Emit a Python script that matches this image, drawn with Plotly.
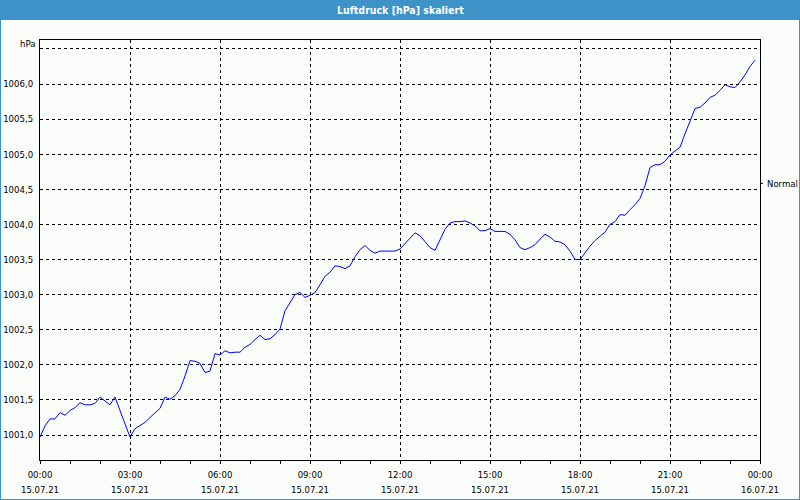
import pandas as pd
import plotly.graph_objects as go

# ---- data (10-minute readings, 15.07.21 00:00 .. 23:50) ----
start_time = "2021-07-15 00:00"
interval = "10min"
pressure_hpa = [
    1000.97, 1001.13, 1001.23, 1001.23, 1001.32, 1001.28, 1001.35, 1001.39, 1001.46, 1001.43,
    1001.43, 1001.45, 1001.54, 1001.48, 1001.43, 1001.54, 1001.35, 1001.16, 1000.97, 1001.09,
    1001.13, 1001.18, 1001.25, 1001.32, 1001.38, 1001.54, 1001.51, 1001.56, 1001.65, 1001.84,
    1002.06, 1002.05, 1002.02, 1001.89, 1001.91, 1002.16, 1002.14, 1002.20, 1002.17, 1002.18,
    1002.18, 1002.25, 1002.29, 1002.36, 1002.42, 1002.36, 1002.37, 1002.43, 1002.51, 1002.77,
    1002.88, 1003.00, 1003.03, 1002.96, 1002.99, 1003.03, 1003.14, 1003.26, 1003.32, 1003.41,
    1003.40, 1003.37, 1003.41, 1003.54, 1003.64, 1003.70, 1003.63, 1003.59, 1003.62, 1003.62,
    1003.63, 1003.62, 1003.65, 1003.73, 1003.81, 1003.88, 1003.84, 1003.75, 1003.67, 1003.63,
    1003.78, 1003.93, 1004.02, 1004.04, 1004.04, 1004.05, 1004.02, 1003.98, 1003.91, 1003.91,
    1003.94, 1003.90, 1003.90, 1003.90, 1003.86, 1003.78, 1003.67, 1003.64, 1003.67, 1003.71,
    1003.79, 1003.86, 1003.82, 1003.76, 1003.75, 1003.71, 1003.62, 1003.50, 1003.50, 1003.60,
    1003.69, 1003.77, 1003.83, 1003.89, 1004.00, 1004.04, 1004.14, 1004.13, 1004.21, 1004.28,
    1004.37, 1004.55, 1004.81, 1004.85, 1004.85, 1004.90, 1004.99, 1005.05, 1005.10, 1005.29,
    1005.47, 1005.65, 1005.67, 1005.73, 1005.81, 1005.84, 1005.91, 1005.99, 1005.96, 1005.95,
    1006.03, 1006.13, 1006.25, 1006.34,
]
y_tick_values = [1001.0, 1001.5, 1002.0, 1002.5, 1003.0, 1003.5, 1004.0, 1004.5, 1005.0, 1005.5, 1006.0, 1006.5]
y_tick_labels = ["1001,0", "1001,5", "1002,0", "1002,5", "1003,0", "1003,5", "1004,0", "1004,5",
                 "1005,0", "1005,5", "1006,0", ""]
x_range = ["2021-07-15 00:00", "2021-07-16 00:00"]
y_range = [1000.644, 1006.627]
normal_level = 1004.585
title_text = "Luftdruck [hPa] skaliert"
unit_text = "hPa"
normal_text = "Normal"

times = pd.date_range(start_time, periods=len(pressure_hpa), freq=interval)
x_ticks = pd.date_range(x_range[0], x_range[1], freq="3h")
x_time_text = [t.strftime("%H:%M") for t in x_ticks]
x_date_text = [t.strftime("%d.%m.%y") for t in x_ticks]

FONT = "DejaVu Sans Condensed, Liberation Sans, sans-serif"
FS = 9.5
BLUE = "#3d92c8"
BG = "#fbfdfb"

fig = go.Figure()
fig.add_trace(go.Scatter(x=times, y=pressure_hpa, mode="lines",
                         line=dict(color="#0000ff", width=1), showlegend=False,
                         hoverinfo="skip"))
# invisible companion trace so the second (date) x-axis is drawn
fig.add_trace(go.Scatter(x=times, y=pressure_hpa, mode="lines", xaxis="x2",
                         line=dict(width=0), opacity=0, showlegend=False, hoverinfo="skip"))

# plot area: x 40..760, y 40..460 px
L, R, T, B, W, H = 40, 40, 40, 40, 800, 500
pw, ph = W - L - R, H - T - B
def px_x(p):
    return (p - L) / pw
def px_y(p):
    return (H - B - p) / ph

fig.update_layout(
    width=W, height=H,
    margin=dict(l=L, r=R, t=T, b=B, autoexpand=False),
    paper_bgcolor=BG, plot_bgcolor=BG,
    font=dict(family=FONT, size=FS, color="#000000"),
    showlegend=False,
    xaxis=dict(range=x_range, type="date", tickmode="array", tickvals=x_ticks, ticktext=x_time_text,
               showgrid=True, gridcolor="#000000", griddash="3px,3px", gridwidth=1,
               showline=True, linecolor="#000000", linewidth=1, mirror=True,
               ticks="outside", ticklen=3, tickcolor="#000000", ticklabelstandoff=3,
               minor=dict(dtick=3600000, tick0=x_range[0], ticks="outside", ticklen=3,
                          tickcolor="#000000", showgrid=False),
               zeroline=False, fixedrange=True, automargin=False),
    xaxis2=dict(range=x_range, type="date", overlaying="x", anchor="y", side="bottom",
                tickmode="array", tickvals=x_ticks, ticktext=x_date_text,
                showgrid=False, showline=False, ticks="", ticklabelstandoff=22,
                zeroline=False, fixedrange=True, automargin=False),
    yaxis=dict(range=y_range, tickmode="array", tickvals=y_tick_values, ticktext=y_tick_labels,
               showgrid=True, gridcolor="#000000", griddash="3px,3px", gridwidth=1,
               showline=True, linecolor="#000000", linewidth=1, mirror=True,
               ticks="", ticklabelstandoff=4, zeroline=False, fixedrange=True, automargin=False),
    shapes=[
        # title bar
        dict(type="rect", xref="paper", yref="paper", x0=px_x(0), x1=px_x(800), y0=px_y(20), y1=px_y(0),
             fillcolor=BLUE, line=dict(width=0), layer="below"),
        # outer frame
        dict(type="line", xref="paper", yref="paper", x0=px_x(0.5), x1=px_x(0.5), y0=px_y(20), y1=px_y(499.5),
             line=dict(color=BLUE, width=1)),
        dict(type="line", xref="paper", yref="paper", x0=px_x(799.5), x1=px_x(799.5), y0=px_y(20), y1=px_y(499.5),
             line=dict(color=BLUE, width=1)),
        dict(type="line", xref="paper", yref="paper", x0=px_x(0), x1=px_x(800), y0=px_y(499.5), y1=px_y(499.5),
             line=dict(color=BLUE, width=1)),
        # Normal marker tick
        dict(type="line", xref="paper", yref="y", x0=1.0, x1=px_x(763), y0=normal_level, y1=normal_level,
             line=dict(color="#000000", width=1)),
    ],
    annotations=[
        dict(text="<b>" + title_text + "</b>", xref="paper", yref="paper", x=0.5, y=px_y(10),
             xanchor="center", yanchor="middle", showarrow=False,
             font=dict(family=FONT, size=10.5, color="#ffffff")),
        dict(text=unit_text, xref="paper", yref="paper", x=px_x(37), y=px_y(44),
             xanchor="right", yanchor="middle", showarrow=False, font=dict(size=FS)),
        dict(text=normal_text, xref="paper", yref="y", x=px_x(765), y=normal_level,
             xanchor="left", yanchor="middle", showarrow=False, font=dict(size=FS)),
    ],
)

fig.write_html("out.html", config={"displayModeBar": False, "staticPlot": True},
               post_script="document.body.style.margin='0';document.body.style.overflow='hidden';")
